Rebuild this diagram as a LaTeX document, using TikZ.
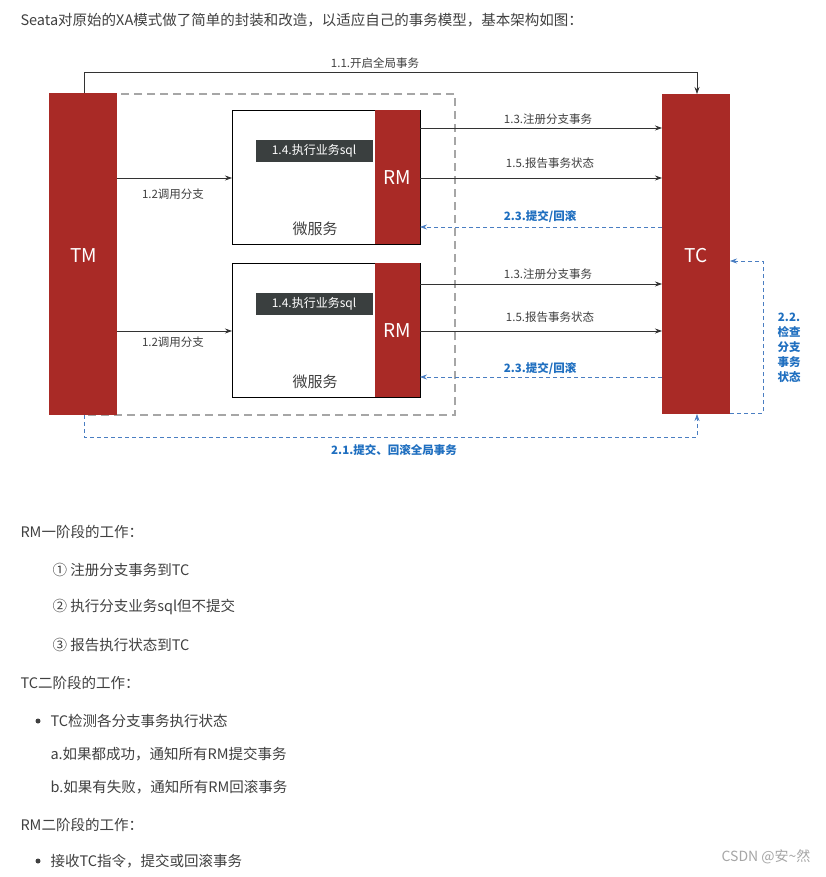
\documentclass[tikz,border=0pt]{standalone}
\usepackage{fontspec}
\setmainfont{Noto Sans CJK SC}
\usetikzlibrary{arrows.meta}
\definecolor{dred}{HTML}{A92A26}
\definecolor{dbox}{HTML}{3A3F3F}
\definecolor{lblue}{HTML}{4A7EC2}
\definecolor{tblue}{HTML}{1F6FC0}
\definecolor{txt}{HTML}{404040}
\tikzset{
 redbox/.style={fill=dred,draw=none},
 redlbl/.style={text=white,font=\fontsize{19}{22}\selectfont},
 svc/.style={draw=black,fill=white,line width=0.8pt},
 sqlbox/.style={fill=dbox,text=white,font=\fontsize{12}{14}\selectfont,inner sep=3pt,minimum height=22pt,minimum width=117pt},
 arr/.style={-{Stealth[length=7pt,width=5pt]},line width=0.7pt,black!80},
 darr/.style={-{Stealth[length=7pt,width=5pt]},line width=0.7pt,lblue,dash pattern=on 4pt off 3pt},
 lbl/.style={font=\fontsize{11.5}{13}\selectfont,text=txt},
 blbl/.style={font=\bfseries\fontsize{11.5}{13}\selectfont,text=tblue},
 body/.style={font=\fontsize{14.5}{17}\selectfont,text=txt,anchor=west}
}
\begin{document}
\begin{tikzpicture}[x=1pt,y=-1pt]
\useasboundingbox (0,0) rectangle (826,877);
\fill[white] (0,0) rectangle (826,877);
\node[body] (h) at (17,20) {Seata对原始的XA模式做了简单的封装和改造，以适应自己的事务模型，基本架构如图：};
% dashed group
\draw[gray!70,line width=2pt,dash pattern=on 8pt off 5pt] (84,94) rectangle (455,415);
% TM TC
\fill[redbox] (49,93) rectangle (117,415);
\node[redlbl] (tm) at (84,256) {TM};
\coordinate (tmT) at (84,93); \coordinate (tmB) at (84,415);
\fill[redbox] (662,94) rectangle (730,414);
\node[redlbl] (tc) at (696,256) {TC};
\coordinate (tcT) at (697,94); \coordinate (tcB) at (697,414);
% services
\foreach \i/\y in {1/110,2/263}{
 \draw[svc] (232,\y) rectangle (420,\y+134);
 \fill[redbox] (375,\y) rectangle (420,\y+134);
 \node[redlbl] (rm\i) at (397.5,\y+68) {RM};
 \node[sqlbox] (sql\i) at (314,\y+41) {1.4.执行业务sql};
 \node[font=\fontsize{15}{17}\selectfont,text=txt] (ms\i) at (315,\y+119) {微服务};
}
% 1.1
\draw[arr] (tmT) -- (84,72) -- (697,72) -- (tcT);
\node[lbl] (l11) at (375,63) {1.1.开启全局事务};
\foreach \a/\b/\c/\d in {178/128/178/227,331/284/331/377}{
 \draw[arr] (117,\a) -- (232,\a);
 \draw[arr] (420,\b) -- (662,\b);
 \draw[arr] (420,\c) -- (662,\c);
 \draw[darr] (662,\d) -- (420,\d);
}
\node[lbl] at (173,194) {1.2调用分支};
\node[lbl] at (173,342) {1.2调用分支};
\node[lbl] at (548,119) {1.3.注册分支事务};
\node[lbl] at (548,274) {1.3.注册分支事务};
\node[lbl] at (550,163) {1.5.报告事务状态};
\node[lbl] at (550,317) {1.5.报告事务状态};
\node[blbl] at (540,217) {2.3.提交/回滚};
\node[blbl] at (540,369) {2.3.提交/回滚};
% 2.1
\draw[darr] (tmB) -- (84,437) -- (697,437) -- (tcB);
\node[blbl] at (394,450) {2.1.提交、回滚全局事务};
% 2.2
\draw[darr] (730,413) -- (763,413) -- (763,261) -- (730,261);
\node[blbl,align=center,font=\bfseries\fontsize{11.5}{15}\selectfont] at (789,348) {2.2.\\检查\\分支\\事务\\状态};
% text
\node[body] at (17,532) {RM一阶段的工作：};
\node[body] at (49,570) {① 注册分支事务到TC};
\node[body] at (49,607) {② 执行分支业务sql但不提交};
\node[body] at (49,645) {③ 报告执行状态到TC};
\node[body] at (17,683) {TC二阶段的工作：};
\fill[txt] (38,721) circle (2.5pt);
\node[body] at (47,721) {TC检测各分支事务执行状态};
\node[body] at (47,754) {a.如果都成功，通知所有RM提交事务};
\node[body] at (47,787) {b.如果有失败，通知所有RM回滚事务};
\node[body] at (17,825) {RM二阶段的工作：};
\fill[txt] (38,861) circle (2.5pt);
\node[body] at (47,861) {接收TC指令，提交或回滚事务};
\node[font=\fontsize{14}{16}\selectfont,text=gray!70,anchor=east] at (814,857) {CSDN @安\textasciitilde 然};
\end{tikzpicture}
\end{document}
